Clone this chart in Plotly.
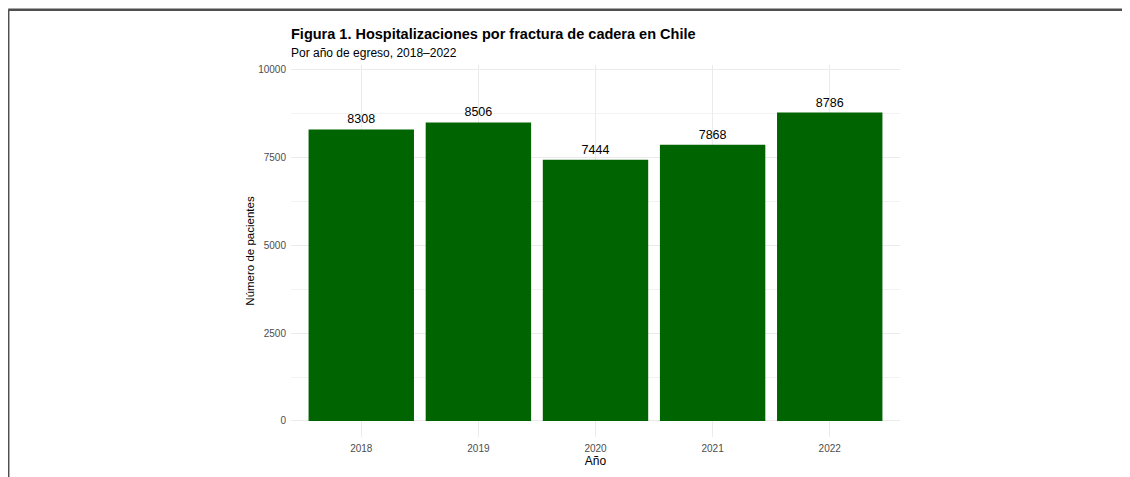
import plotly.graph_objects as go

years = ["2018", "2019", "2020", "2021", "2022"]
patients = [8308, 8506, 7444, 7868, 8786]
y_ticks = [0, 2500, 5000, 7500, 10000]

# page body has an 8px margin, so figure coords = screen coords - 8
OFF = 8
W, H = 1130 - OFF, 477 - OFF
L, T = 291 - OFF, 65 - OFF
pw, ph = 609, 372
R, B = W - L - pw, H - T - ph

fig = go.Figure()
fig.add_trace(go.Bar(
    x=years, y=patients, width=0.9,
    marker=dict(color="#006400", line=dict(width=0)),
    text=[str(v) for v in patients], textposition="outside",
    textfont=dict(family="Liberation Sans", size=12.5, color="#000000"),
    cliponaxis=False, hoverinfo="skip",
))

font = "Liberation Sans"


def px_y(screen_y):
    return (T + ph - (screen_y - OFF)) / ph


def px_x(screen_x):
    return (screen_x - OFF - L) / pw


fig.update_layout(
    width=W, height=H,
    margin=dict(l=L, r=R, t=T, b=B, pad=0),
    paper_bgcolor="white", plot_bgcolor="white",
    showlegend=False, bargap=0.1,
    font=dict(family=font, color="#000000"),
    xaxis=dict(
        type="category", range=[-0.6, 4.6],
        showgrid=True, gridcolor="#ebebeb", gridwidth=1,
        showline=False, zeroline=False, ticks="",
        tickfont=dict(family=font, size=10, color="#4d4d4d"),
        ticklabelstandoff=4,
        title=dict(text="Año", font=dict(family=font, size=12, color="#000000"), standoff=2),
    ),
    yaxis=dict(
        range=[-456, 10142],
        tickvals=y_ticks, ticktext=[str(v) for v in y_ticks],
        showgrid=True, gridcolor="#ebebeb", gridwidth=1,
        minor=dict(dtick=1250, tick0=0, showgrid=True, gridcolor="#f2f2f2", gridwidth=0.6),
        showline=False, zeroline=False, ticks="",
        tickfont=dict(family=font, size=10, color="#4d4d4d"),
        ticklabelstandoff=4,
        title=dict(text="Número de pacientes", font=dict(family=font, size=11.5, color="#000000"), standoff=1),
    ),
    annotations=[
        dict(text="<b>Figura 1. Hospitalizaciones por fractura de cadera en Chile</b>",
             xref="paper", yref="paper", x=0, y=px_y(44), xanchor="left", yanchor="bottom",
             xshift=-2, showarrow=False, font=dict(family=font, size=14.5, color="#000000")),
        dict(text="Por año de egreso, 2018–2022",
             xref="paper", yref="paper", x=0, y=px_y(62), xanchor="left", yanchor="bottom",
             xshift=-2, showarrow=False, font=dict(family=font, size=12, color="#000000")),
    ],
    shapes=[
        dict(type="line", xref="paper", yref="paper",
             x0=px_x(8.2), x1=px_x(1160),
             y0=px_y(9.8), y1=px_y(9.8),
             line=dict(color="#4f4f4f", width=2.5), layer="above"),
        dict(type="line", xref="paper", yref="paper",
             x0=px_x(8.2), x1=px_x(8.2),
             y0=px_y(9.8), y1=px_y(500),
             line=dict(color="#4f4f4f", width=2.5), layer="above"),
    ],
)

fig.write_html("out.html")
